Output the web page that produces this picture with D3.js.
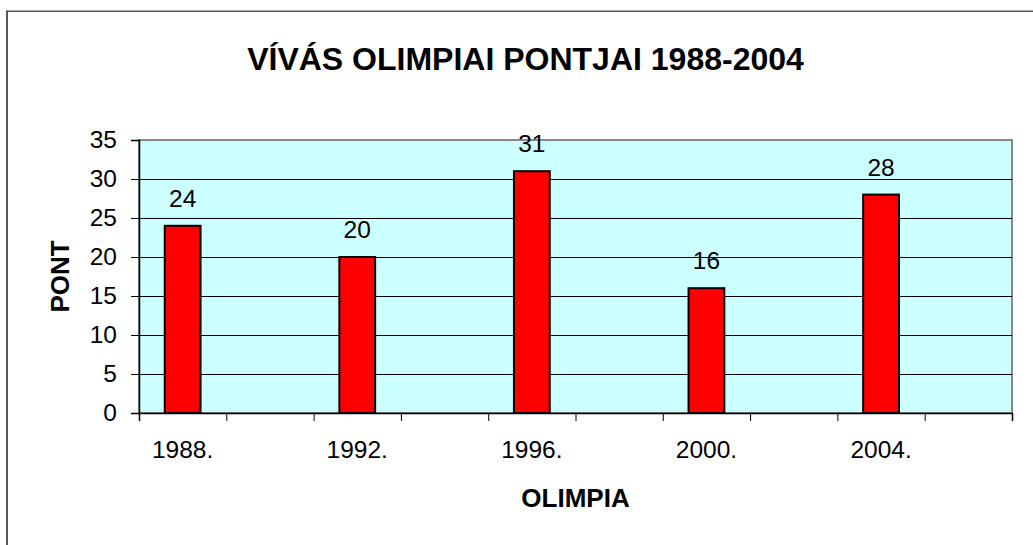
<!DOCTYPE html>
<html>
<head>
<meta charset="utf-8">
<script src="https://cdn.jsdelivr.net/npm/d3@7"></script>
<style>
  body { margin: 0; background: #fff; }
  svg { display: block; font-family: Arial, "Liberation Sans", sans-serif; }
</style>
</head>
<body>
<div id="vis"></div>
<script>
// chart data
var categories = ["1988.", "", "1992.", "", "1996.", "", "2000.", "", "2004.", ""];
var points = [24, null, 20, null, 31, null, 16, null, 28, null];
var yTicks = [0, 5, 10, 15, 20, 25, 30, 35];

var chartTitle = "VÍVÁS OLIMPIAI PONTJAI 1988-2004";
var xTitle = "OLIMPIA";
var yTitle = "PONT";

var width = 1033;
var height = 545;
var plot = { left: 139, top: 140, right: 1012, bottom: 413 };

var svg = d3.select("#vis")
  .append("svg")
  .attr("width", width)
  .attr("height", height);

// outer chart border
svg.append("rect")
  .attr("x", 7)
  .attr("y", 11)
  .attr("width", 1100)
  .attr("height", 600)
  .attr("fill", "none")
  .attr("stroke", "#222")
  .attr("stroke-width", 1.5);
svg.append("line")
  .attr("x1", 7).attr("x2", width)
  .attr("y1", 10.5).attr("y2", 10.5)
  .attr("stroke", "#aaa")
  .attr("stroke-width", 1);

// scales
var x = d3.scaleLinear()
  .domain([0, categories.length])
  .range([plot.left, plot.right]);

var y = d3.scaleLinear()
  .domain([0, 35])
  .range([plot.bottom, plot.top]);

var slot = x(1) - x(0);
var barWidth = slot * 0.41;

// plot background
svg.append("rect")
  .attr("x", plot.left)
  .attr("y", plot.top)
  .attr("width", plot.right - plot.left)
  .attr("height", plot.bottom - plot.top)
  .attr("fill", "#ccffff")
  .attr("stroke", "#888")
  .attr("stroke-width", 2);

// gridlines
svg.selectAll(".grid")
  .data(yTicks.filter(function (d) { return d > 0 && d < 35; }))
  .enter().append("line")
  .attr("class", "grid")
  .attr("x1", plot.left)
  .attr("x2", plot.right)
  .attr("y1", function (d) { return Math.round(y(d)) + 0.5; })
  .attr("y2", function (d) { return Math.round(y(d)) + 0.5; })
  .attr("stroke", "#000")
  .attr("stroke-width", 1);

// bars
var barData = points.map(function (v, i) { return { i: i, value: v }; })
  .filter(function (d) { return d.value !== null; });

svg.selectAll(".bar")
  .data(barData)
  .enter().append("rect")
  .attr("class", "bar")
  .attr("x", function (d) { return x(d.i + 0.5) - barWidth / 2; })
  .attr("y", function (d) { return y(d.value); })
  .attr("width", barWidth)
  .attr("height", function (d) { return y(0) - y(d.value); })
  .attr("fill", "#ff0000")
  .attr("stroke", "#000")
  .attr("stroke-width", 2);

// value labels
svg.selectAll(".val")
  .data(barData)
  .enter().append("text")
  .attr("class", "val")
  .attr("x", function (d) { return x(d.i + 0.5); })
  .attr("y", function (d) { return y(d.value) - 19; })
  .attr("text-anchor", "middle")
  .attr("font-size", "24.5px")
  .attr("fill", "#000")
  .text(function (d) { return d.value; });

// y axis
var yAxis = svg.append("g")
  .attr("transform", "translate(" + plot.left + ",0)")
  .call(d3.axisLeft(y).tickValues(yTicks).tickSize(8).tickPadding(14));
yAxis.select(".domain").attr("stroke", "#000").attr("stroke-width", 1.5);
yAxis.selectAll(".tick line").attr("stroke", "#000");
yAxis.selectAll("text")
  .attr("font-size", "24.5px")
  .attr("font-family", "Arial, 'Liberation Sans', sans-serif")
  .attr("fill", "#000");

// x axis: ticks at slot boundaries
var xAxis = svg.append("g")
  .attr("transform", "translate(0," + plot.bottom + ")")
  .call(d3.axisBottom(x).ticks(categories.length).tickSize(8).tickFormat(""));
xAxis.select(".domain").attr("stroke", "#000").attr("stroke-width", 1.5);
xAxis.selectAll(".tick line").attr("stroke", "#000");

svg.selectAll(".xlab")
  .data(categories)
  .enter().append("text")
  .attr("class", "xlab")
  .attr("x", function (d, i) { return x(i + 0.5); })
  .attr("y", 458)
  .attr("text-anchor", "middle")
  .attr("font-size", "24.5px")
  .attr("fill", "#000")
  .text(function (d) { return d; });

// titles
svg.append("text")
  .attr("x", 525.5)
  .attr("y", 70)
  .attr("text-anchor", "middle")
  .attr("font-size", "32px")
  .attr("font-weight", "bold")
  .text(chartTitle);

svg.append("text")
  .attr("x", (plot.left + plot.right) / 2)
  .attr("y", 507)
  .attr("text-anchor", "middle")
  .attr("font-size", "26px")
  .attr("font-weight", "bold")
  .text(xTitle);

svg.append("text")
  .attr("transform", "translate(69," + (plot.top + plot.bottom) / 2 + ") rotate(-90)")
  .attr("text-anchor", "middle")
  .attr("font-size", "26px")
  .attr("font-weight", "bold")
  .text(yTitle);
</script>
</body>
</html>
